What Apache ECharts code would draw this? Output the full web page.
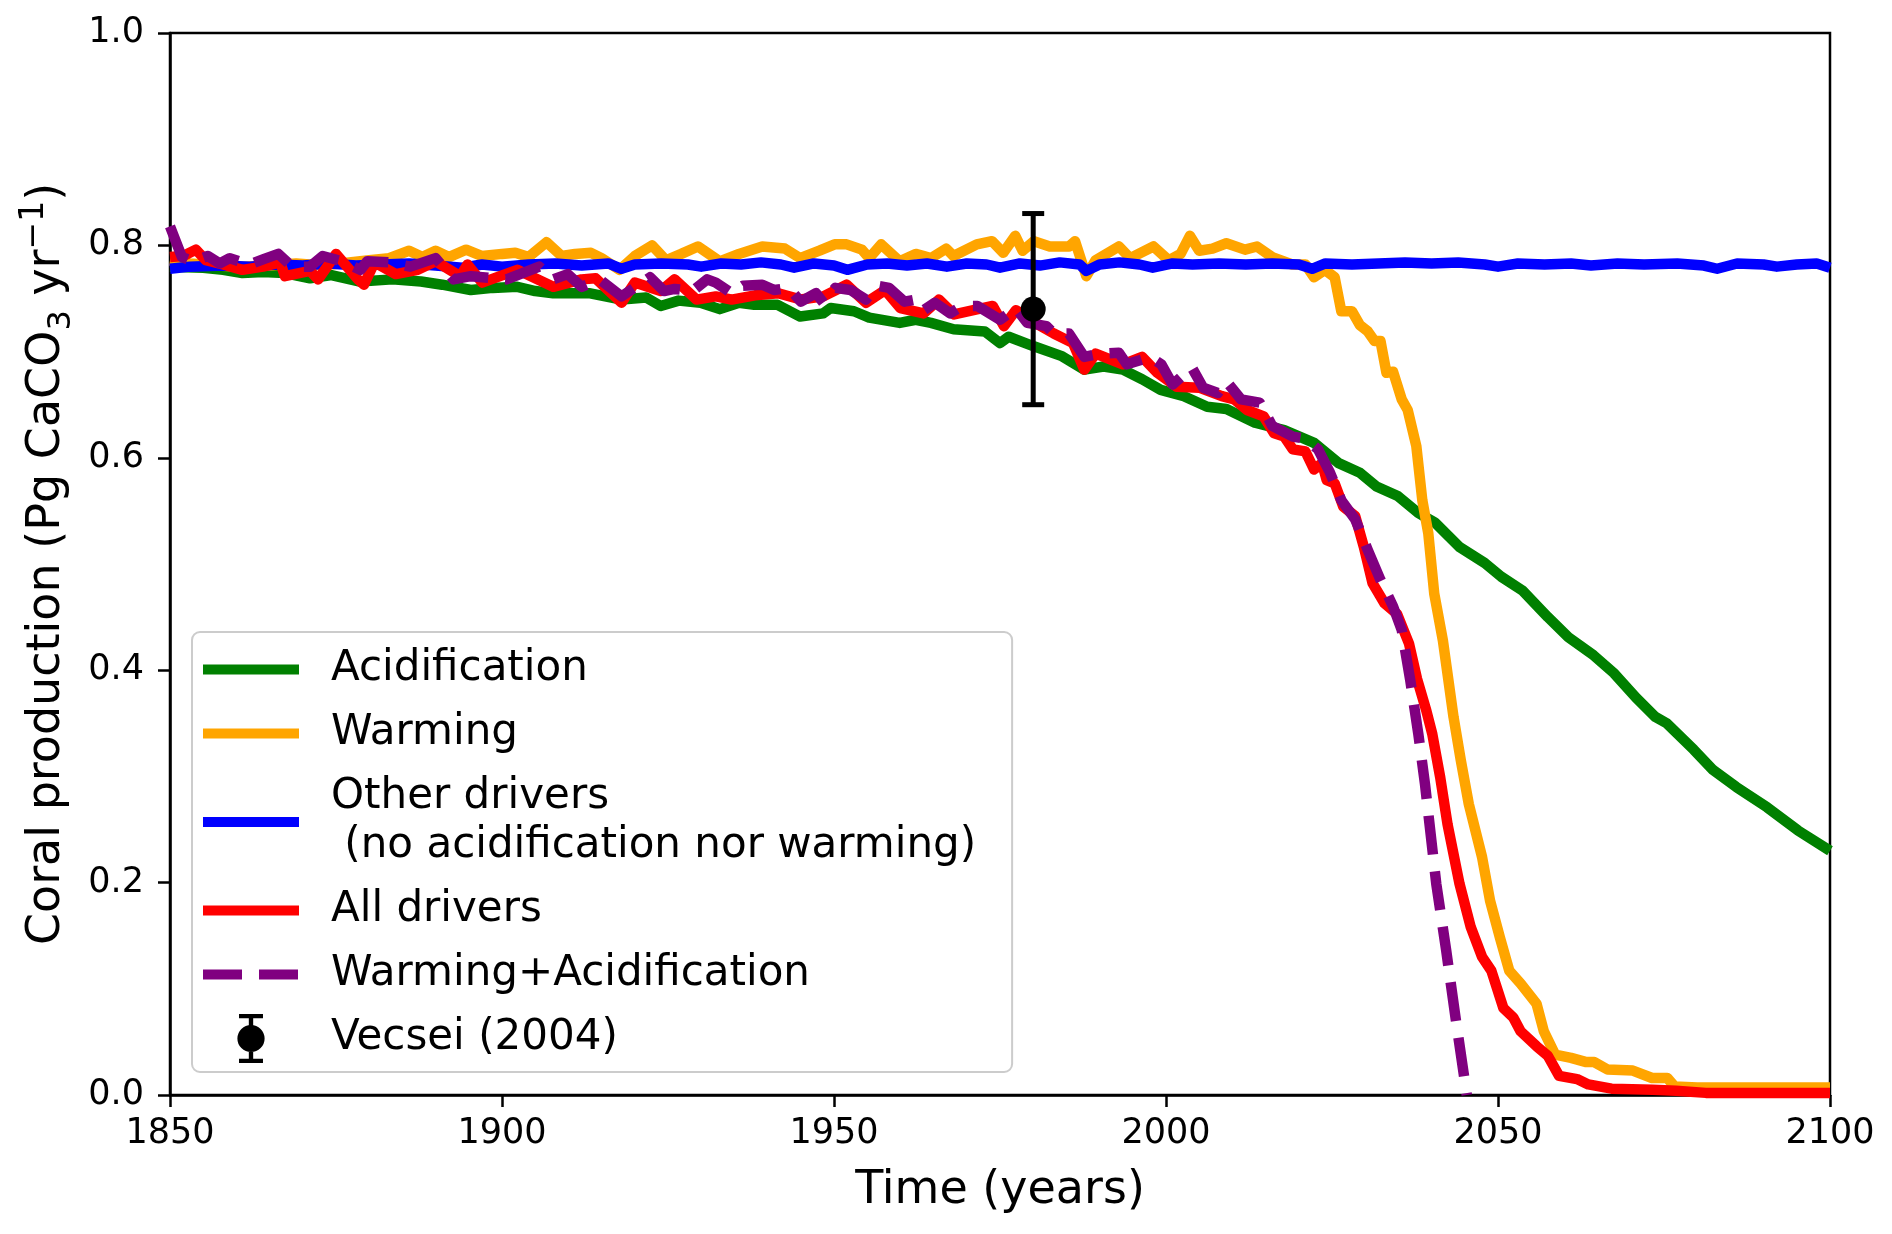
<!DOCTYPE html>
<html>
<head>
<meta charset="utf-8">
<script src="https://cdn.jsdelivr.net/npm/echarts@6/dist/echarts.min.js"></script>
<style>
  html, body { margin: 0; padding: 0; background: #fff; }
  #chart { width: 1892px; height: 1234px; }
</style>
</head>
<body>
<div id="chart"></div>
<script>
// ---- data ----
const seriesNames = ['Acidification', 'Warming', 'Other drivers (no acidification nor warming)', 'All drivers', 'Warming+Acidification', 'Vecsei (2004)'];
const xTicks = [1850, 1900, 1950, 2000, 2050, 2100];
const yTicks = [0.0, 0.2, 0.4, 0.6, 0.8, 1.0];

const acidification = [
  [1850,0.780],[1855,0.779],[1858,0.777],[1860.9,0.774],[1864,0.775],[1867.3,0.774],[1871.1,0.769],[1874.3,0.772],
  [1878.6,0.766],[1883.5,0.768],[1887.8,0.766],[1891,0.763],[1895.3,0.758],[1898.6,0.760],[1902.3,0.761],[1905,0.757],
  [1907.7,0.755],[1913.1,0.755],[1918,0.749],[1921.7,0.751],[1923.9,0.743],[1926.6,0.748],[1929.9,0.746],[1932.8,0.740],
  [1935.7,0.746],[1938,0.744],[1941.5,0.744],[1944.9,0.733],[1948.4,0.736],[1949.5,0.741],[1953,0.738],[1955.3,0.732],
  [1959.9,0.727],[1962.3,0.730],[1964.6,0.727],[1968,0.721],[1972.7,0.719],[1975,0.708],[1976.3,0.714],[1980.1,0.705],
  [1984.2,0.696],[1987.7,0.683],[1990.6,0.686],[1993.5,0.683],[1996.4,0.674],[1999.2,0.664],[2002.7,0.658],[2006.2,0.648],
  [2009.1,0.646],[2013.4,0.633],[2017.8,0.626],[2022.3,0.614],[2026,0.595],[2029.2,0.586],[2031.7,0.573],[2034.9,0.564],
  [2038,0.548],[2040.5,0.539],[2044.2,0.516],[2048,0.501],[2050.5,0.488],[2053.7,0.475],[2057.5,0.450],[2060.6,0.431],
  [2064.4,0.414],[2067.5,0.397],[2070.8,0.374],[2073.7,0.356],[2075.4,0.350],[2079.5,0.325],[2082.4,0.306],[2085.9,0.290],
  [2090.5,0.271],[2095.2,0.249],[2100,0.230]
];

const warming = [
  [1850,0.786],[1853,0.783],[1857,0.781],[1861,0.780],[1865,0.781],[1869,0.783],[1873,0.781],[1877,0.784],[1880,0.786],
  [1883,0.788],[1886,0.795],[1888,0.789],[1890,0.795],[1892,0.789],[1894.6,0.796],[1897,0.790],[1900,0.792],[1902,0.793],
  [1904,0.789],[1906.7,0.803],[1909,0.790],[1911,0.792],[1913.4,0.793],[1915,0.788],[1917.7,0.777],[1920,0.790],
  [1922.6,0.800],[1924.7,0.786],[1927,0.792],[1929.5,0.799],[1932.8,0.785],[1935.7,0.792],[1939.2,0.799],[1942.6,0.797],
  [1944.9,0.788],[1947.8,0.795],[1950.1,0.801],[1951.9,0.801],[1954.2,0.796],[1955.3,0.788],[1957.1,0.801],[1959.9,0.785],
  [1962.3,0.792],[1964.6,0.788],[1966.9,0.797],[1968,0.790],[1971.5,0.801],[1973.8,0.804],[1975.5,0.793],[1977.3,0.809],
  [1978.4,0.795],[1980.1,0.804],[1982.5,0.799],[1985.4,0.799],[1986.3,0.804],[1988,0.771],[1989.4,0.786],[1992.9,0.799],
  [1994.6,0.788],[1998.1,0.799],[2000.4,0.786],[2002.2,0.792],[2003.6,0.809],[2005,0.795],[2007,0.797],[2009.1,0.802],
  [2011.9,0.796],[2013.7,0.799],[2016,0.789],[2019,0.782],[2021,0.782],[2022.3,0.770],[2023.9,0.777],[2025.4,0.770],
  [2026.4,0.738],[2028,0.738],[2029.2,0.725],[2030.4,0.719],[2031.4,0.710],[2032.3,0.710],[2033.2,0.680],[2034.2,0.681],
  [2035.5,0.655],[2036.4,0.645],[2037.7,0.611],[2038.6,0.560],[2039.5,0.529],[2040.4,0.472],[2041.7,0.428],[2043.3,0.356],
  [2044.4,0.315],[2045.6,0.274],[2047.6,0.224],[2048.8,0.183],[2050.3,0.148],[2051.7,0.117],[2053.4,0.105],[2055.8,0.086],
  [2056.9,0.060],[2058.6,0.038],[2061,0.035],[2063.3,0.031],[2064.5,0.031],[2066.5,0.024],[2070.3,0.023],[2073.2,0.016],
  [2075.5,0.016],[2076.6,0.008],[2080,0.007],[2090,0.007],[2100,0.007]
];

const otherDrivers = [
  [1850,0.778],[1853,0.780],[1858,0.781],[1862,0.780],[1866,0.782],[1870,0.781],[1874,0.783],[1878,0.781],[1882,0.782],
  [1886,0.783],[1890,0.781],[1894,0.779],[1897,0.782],[1900,0.780],[1904,0.782],[1908,0.783],[1912,0.781],[1916,0.783],
  [1918,0.778],[1920,0.782],[1924,0.783],[1928,0.782],[1930,0.780],[1933,0.783],[1936,0.782],[1939,0.784],[1942,0.782],
  [1944,0.779],[1947,0.783],[1950,0.781],[1952,0.777],[1955,0.782],[1958,0.783],[1961,0.781],[1964,0.783],[1967,0.780],
  [1970,0.783],[1973,0.782],[1975,0.779],[1978,0.783],[1981,0.781],[1984,0.784],[1987,0.782],[1988,0.776],[1990,0.782],
  [1993,0.784],[1996,0.782],[1998,0.779],[2001,0.783],[2004,0.782],[2008,0.783],[2012,0.782],[2016,0.783],[2020,0.782],
  [2022,0.778],[2024,0.783],[2028,0.782],[2032,0.783],[2036,0.784],[2040,0.783],[2044,0.784],[2048,0.782],[2050,0.780],
  [2053,0.783],[2057,0.782],[2061,0.783],[2064,0.781],[2068,0.783],[2072,0.782],[2077,0.783],[2081,0.781],[2083,0.778],
  [2086,0.783],[2090,0.782],[2092,0.780],[2095,0.782],[2098,0.783],[2100,0.779]
];

const allDrivers = [
  [1850,0.789],[1852,0.790],[1853.9,0.796],[1855.4,0.786],[1858,0.782],[1860.9,0.777],[1864,0.780],[1866.6,0.784],
  [1867.3,0.771],[1871.1,0.776],[1872.3,0.768],[1875,0.792],[1878.3,0.768],[1879.2,0.763],[1880.8,0.784],[1884,0.773],
  [1887.3,0.777],[1890,0.785],[1893.7,0.771],[1894.8,0.782],[1897,0.765],[1902.3,0.777],[1907.7,0.761],[1912,0.768],
  [1914.1,0.769],[1918,0.746],[1920,0.765],[1923.9,0.757],[1926,0.768],[1929.3,0.749],[1932.2,0.752],[1934.6,0.749],
  [1938.1,0.753],[1941.6,0.755],[1945,0.749],[1948.4,0.752],[1951.9,0.763],[1954.8,0.746],[1957.7,0.758],[1960,0.741],
  [1963.5,0.736],[1965.8,0.749],[1968.1,0.735],[1973.9,0.743],[1975.6,0.724],[1977.4,0.739],[1980.3,0.727],[1983.1,0.717],
  [1986,0.708],[1987.7,0.683],[1989.4,0.698],[1993.5,0.688],[1996.4,0.695],[1998.7,0.680],[2001.6,0.667],[2005,0.666],
  [2008.4,0.658],[2010.3,0.655],[2012.2,0.645],[2014.7,0.639],[2016.3,0.623],[2017.8,0.620],[2019.1,0.608],[2021,0.606],
  [2022.3,0.589],[2023.5,0.595],[2024.2,0.579],[2025.4,0.576],[2026.7,0.554],[2028.5,0.545],[2029.8,0.516],[2031.1,0.482],
  [2032.9,0.463],[2034.8,0.453],[2036.6,0.425],[2037.8,0.392],[2039.2,0.362],[2040.1,0.340],[2041.3,0.299],[2042.4,0.255],
  [2044.2,0.199],[2045.9,0.158],[2047.6,0.130],[2049,0.117],[2050.8,0.082],[2052.3,0.073],[2053.4,0.060],[2055.8,0.046],
  [2057.5,0.037],[2059.2,0.018],[2061.9,0.015],[2063.6,0.010],[2067.1,0.006],[2073.3,0.005],[2076.8,0.004],[2081.3,0.002],
  [2090,0.002],[2100,0.002]
];

const warmingAcidification = [
  [1850,0.818],[1851.8,0.789],[1853.5,0.785],[1855.7,0.790],[1857.5,0.783],[1859,0.788],[1862,0.782],[1864.1,0.787],
  [1866.3,0.792],[1868.4,0.780],[1871.1,0.780],[1873,0.790],[1875.4,0.786],[1878.7,0.777],[1879.7,0.785],[1883,0.784],
  [1886.2,0.780],[1890,0.788],[1892.7,0.768],[1895.3,0.771],[1900.7,0.768],[1905.6,0.780],[1907.7,0.768],[1909.9,0.773],
  [1912,0.761],[1914.7,0.768],[1918,0.752],[1922.3,0.770],[1924.4,0.757],[1926,0.759],[1928.7,0.757],[1930.9,0.768],
  [1932.2,0.765],[1934.6,0.755],[1936.3,0.762],[1939.2,0.763],[1941,0.758],[1943.2,0.760],[1945,0.747],[1947.3,0.755],
  [1948.4,0.746],[1950.2,0.760],[1952.5,0.758],[1954.8,0.749],[1956.5,0.762],[1958.3,0.760],[1960.6,0.747],[1962.3,0.749],
  [1963.5,0.739],[1965.2,0.746],[1967.5,0.736],[1969.3,0.743],[1971.6,0.743],[1975,0.730],[1977.4,0.741],[1979.1,0.727],
  [1982,0.724],[1983.1,0.717],[1985.4,0.717],[1987.7,0.695],[1990,0.698],[1992.9,0.699],[1994.1,0.688],[1997.6,0.695],
  [1999.3,0.688],[2001,0.669],[2003.9,0.685],[2005.6,0.666],[2007.8,0.661],[2009.1,0.672],[2011.3,0.655],[2014.1,0.652],
  [2016,0.630],[2019.1,0.620],[2021,0.618],[2022.9,0.608],[2024.7,0.586],[2026.4,0.560],[2028.5,0.542],[2030.4,0.513],
  [2032.3,0.485],[2034.2,0.460],[2035.5,0.438],[2036.8,0.390],[2038,0.340],[2039,0.293],[2040.7,0.199],[2042.2,0.136],
  [2043.6,0.073],[2045.3,0.0]
];

const vecseiYear = [1980];
const vecseiValue = [0.74];
const vecseiErr = [0.09];

// ---- chart ----
const FONT = 'DejaVu Sans';
const colors = ['#008000', '#FFA500', '#0000FF', '#FF0000', '#800080', '#000000'];
const LW = 10.5;
const DASH = [39, 17];

const chart = echarts.init(document.getElementById('chart'), null, { renderer: 'canvas' });

function lineSeries(name, data, color, dashed) {
  return {
    name: name,
    type: 'line',
    data: data,
    symbol: 'none',
    showSymbol: false,
    smooth: false,
    clip: true,
    lineStyle: { color: color, width: LW, type: dashed ? DASH : 'solid', cap: 'butt', join: 'round' },
    itemStyle: { color: color },
    emphasis: { disabled: true },
    animation: false
  };
}

const vecseiData = vecseiYear.map((y, i) => [y, vecseiValue[i], vecseiValue[i] - vecseiErr[i], vecseiValue[i] + vecseiErr[i]]);

const option = {
  animation: false,
  backgroundColor: '#ffffff',
  textStyle: { fontFamily: FONT },
  grid: {
    left: 170, right: 62, top: 33, bottom: 139,
    show: true, borderColor: '#000', borderWidth: 2.5, backgroundColor: 'transparent'
  },
  xAxis: {
    type: 'value',
    min: 1850, max: 2100, interval: 50,
    name: 'Time (years)',
    nameLocation: 'middle',
    nameGap: 73,
    nameTextStyle: { fontFamily: FONT, fontSize: 46, color: '#000' },
    axisLine: { show: true, onZero: false, lineStyle: { color: '#000', width: 2.5 } },
    axisTick: { show: true, inside: false, length: 12, lineStyle: { color: '#000', width: 2.5 } },
    axisLabel: { fontFamily: FONT, fontSize: 35, color: '#000', margin: 21,
      formatter: v => (xTicks.indexOf(v) >= 0 ? String(v) : '') },
    splitLine: { show: false }
  },
  yAxis: {
    type: 'value',
    min: 0, max: 1, interval: 0.2,
    name: '{a|Coral production (Pg CaCO}{s|3}{a| yr}{p|−1}{a|)}',
    nameLocation: 'middle',
    nameGap: 90,
    nameRotate: 90,
    nameTextStyle: {
      fontFamily: FONT, fontSize: 46, color: '#000',
      rich: {
        a: { fontFamily: FONT, fontSize: 46, color: '#000', lineHeight: 60 },
        s: { fontFamily: FONT, fontSize: 32, color: '#000', lineHeight: 30, verticalAlign: 'bottom' },
        p: { fontFamily: FONT, fontSize: 33, color: '#000', lineHeight: 26, verticalAlign: 'top' }
      }
    },
    axisLine: { show: true, onZero: false, lineStyle: { color: '#000', width: 2.5 } },
    axisTick: { show: true, inside: false, length: 12, lineStyle: { color: '#000', width: 2.5 } },
    axisLabel: { fontFamily: FONT, fontSize: 35, color: '#000', margin: 26,
      formatter: v => v.toFixed(1) },
    splitLine: { show: false }
  },
  legend: {
    orient: 'vertical',
    left: 192, top: 632,
    padding: [13, 36, 9, 6],
    itemGap: 15,
    itemWidth: 96,
    itemHeight: 49,
    backgroundColor: 'rgba(255,255,255,0.8)',
    borderColor: '#cccccc',
    borderWidth: 2,
    borderRadius: 8,
    selectedMode: false,
    itemStyle: { opacity: 0 },
    lineStyle: { width: 10 },
    textStyle: { fontFamily: FONT, fontSize: 42, color: '#000', lineHeight: 49, padding: [0, 0, 0, 27] },
    formatter: function (name) {
      if (name === seriesNames[2]) return 'Other drivers\n (no acidification nor warming)';
      return name;
    },
    data: [
      { name: seriesNames[0] },
      { name: seriesNames[1] },
      { name: seriesNames[2] },
      { name: seriesNames[3] },
      { name: seriesNames[4], lineStyle: { width: 10, type: DASH } },
      {
        name: seriesNames[5],
        icon: 'path://M1.5,0 H23.5 V4 H1.5 Z M10.5,0 H14.5 V45 H10.5 Z M1.5,41 H23.5 V45 H1.5 Z M0,22.5 A12.5,12.5 0 1,1 25,22.5 A12.5,12.5 0 1,1 0,22.5 Z',
        itemStyle: { opacity: 1, color: '#000' }
      }
    ]
  },
  series: [
    lineSeries(seriesNames[0], acidification, colors[0], false),
    lineSeries(seriesNames[1], warming, colors[1], false),
    lineSeries(seriesNames[2], otherDrivers, colors[2], false),
    lineSeries(seriesNames[3], allDrivers, colors[3], false),
    lineSeries(seriesNames[4], warmingAcidification, colors[4], true),
    {
      name: seriesNames[5],
      type: 'custom',
      data: vecseiData,
      itemStyle: { color: '#000' },
      z: 5,
      renderItem: function (params, api) {
        const x = api.value(0);
        const p = api.coord([x, api.value(1)]);
        const lo = api.coord([x, api.value(2)]);
        const hi = api.coord([x, api.value(3)]);
        const cw = 11;
        const st = { stroke: '#000', lineWidth: 5 };
        return {
          type: 'group',
          children: [
            { type: 'line', shape: { x1: lo[0], y1: lo[1], x2: hi[0], y2: hi[1] }, style: st },
            { type: 'line', shape: { x1: hi[0] - cw, y1: hi[1], x2: hi[0] + cw, y2: hi[1] }, style: st },
            { type: 'line', shape: { x1: lo[0] - cw, y1: lo[1], x2: lo[0] + cw, y2: lo[1] }, style: st },
            { type: 'circle', shape: { cx: p[0], cy: p[1], r: 12.5 }, style: { fill: '#000' } }
          ]
        };
      }
    }
  ]
};

chart.setOption(option);
</script>
</body>
</html>
